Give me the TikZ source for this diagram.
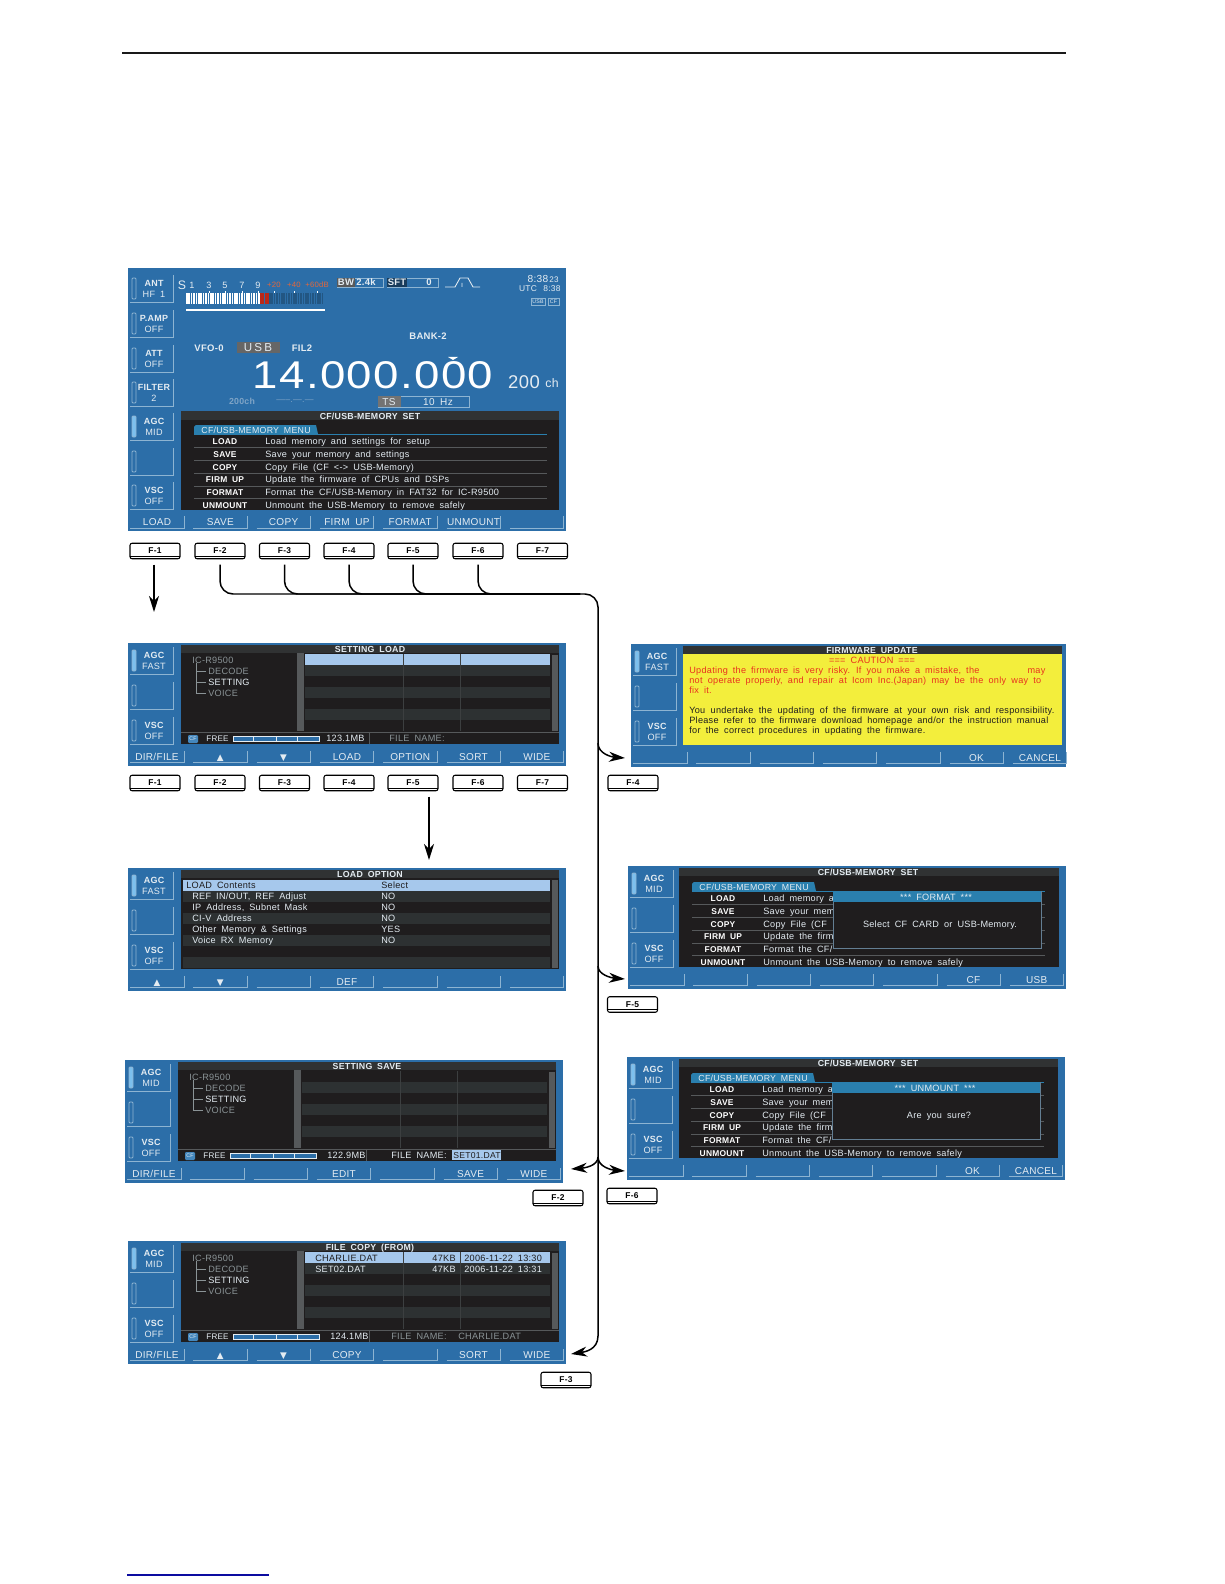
\documentclass[tikz,border=0pt]{standalone}
\usepackage{fontspec}
\setmainfont{Liberation Sans}[LetterSpace=3,WordSpace=1.8]
\newfontfamily\symfont{DejaVu Sans}
\usetikzlibrary{arrows.meta}

\definecolor{panelblue}{HTML}{2C6EA8}
\definecolor{keyblue}{HTML}{8DB4D2}
\definecolor{ledblue}{HTML}{7CC0EE}
\definecolor{scrdark}{HTML}{1F1D1E}
\definecolor{scrstrip}{HTML}{303233}
\definecolor{scrrow}{HTML}{2D3132}
\definecolor{scrbar}{HTML}{56595B}
\definecolor{scrcol}{HTML}{3C3F40}
\definecolor{selblue}{HTML}{A6C8EC}
\definecolor{tabteal}{HTML}{2A7FAE}
\definecolor{dimtext}{HTML}{8A9396}
\definecolor{soft}{HTML}{E4ECF2}
\definecolor{lcdyellow}{HTML}{F3EE3C}
\definecolor{warnred}{HTML}{E8321E}
\definecolor{meterred}{HTML}{E2673C}
\definecolor{dimblue}{HTML}{7FA4C6}
\definecolor{linkblue}{HTML}{0C0CA0}

\newlength\pxw
\setlength\pxw{0.02cm}

\tikzset{
  panel/.style={fill=panelblue,anchor=north west,inner sep=0,minimum width=8.76cm,minimum height=2.45cm},
  capline/.style={text height=#1,text depth=0pt},
  softlbl/.style={text=soft,inner sep=0,capline=4.1pt,font=\fontsize{5.7}{7}\selectfont},
  sidelbl/.style={text=soft,inner sep=0,capline=3.7pt,font=\fontsize{5.1}{6}\selectfont\bfseries},
  sidelow/.style={text=soft,inner sep=0,capline=3.7pt,font=\fontsize{5.2}{6}\selectfont},
  keyline/.style={draw=keyblue,line width=.5pt},
  scrtext/.style={text=soft,inner sep=0,anchor=west,capline=3.7pt,font=\fontsize{5.2}{6}\selectfont},
  scrbold/.style={text=white,inner sep=0,capline=3.5pt,font=\fontsize{4.8}{6}\selectfont\bfseries},
  scrtitle/.style={text=soft,inner sep=0,capline=3.6pt,font=\fontsize{5}{6}\selectfont\bfseries},
  scrdim/.style={scrtext,text=dimtext},
  paneltext/.style={text=soft,inner sep=0,font=\fontsize{5.4}{6}\selectfont\bfseries},
  fkey/.style={draw=black,fill=white,rounded corners=1.2pt,line width=.6pt,inner sep=0,
    minimum width=1cm,minimum height=.31cm,font=\fontsize{4.8}{5}\selectfont\bfseries,
    path picture={\draw[line width=.5pt] ([yshift=1.5pt]path picture bounding box.south west) -- ([yshift=1.5pt]path picture bounding box.south east);}},
  link/.style={draw=black,line width=.85pt},
  arrowlink/.style={link,-{Stealth[length=.32cm,width=.2cm,inset=.1cm]}}
}

% one key at the left of a screen
\newcommand{\sideframe}[2]{%
  \draw[keyline] (2,#1+27) -- (45,#1+27) -- (45,#1);
  \draw[keyline,fill=#2,rounded corners=.6pt] (4,#1+3) rectangle (8,#1+24);
}
\newcommand{\sidekey}[5]{%
  \sideframe{#2}{#5}
  \node[sidelbl] (#1a) at (26,#2+8) {#3};
  \node[sidelow] (#1b) at (26,#2+19) {#4};
}
% the seven keys along the bottom of a screen
\newcommand{\softframes}[1]{%
  \foreach \i in {0,...,6} {
    \pgfmathsetmacro{\kr}{56+63.3*\i}
    \pgfmathsetmacro{\kl}{\kr-54}
    \draw[keyline] (\kl,#1-3) -- (\kr,#1-3) -- (\kr,#1-15);
  }
}
\newcommand{\softlabels}[3]{%
  \foreach \i/\lab in {#3} {
    \pgfmathsetmacro{\kx}{29+63.3*(\i-1)}
    \node[softlbl] (#1s\i) at (\kx,#2-9) {\lab};
  }
}
\newcommand{\upkey}{{\symfont\fontsize{5}{5}\selectfont ▲}}
\newcommand{\downkey}{{\symfont\fontsize{5}{5}\selectfont ▼}}

% screen with three side keys, dark area and title
\newcommand{\screen}[5]{%
  \node[panel] (#1) at (0,0) {};
  \sidekey{#1p}{4}{AGC}{#2}{ledblue}
  \sideframe{39}{panelblue}
  \sidekey{#1v}{74}{VSC}{OFF}{panelblue}
  \fill[scrdark] (#4,2) rectangle (431,101);
  \fill[scrstrip] (#4,2) rectangle (431,10);
  \node[scrtitle] (#1t) at (#5,6.5) {#3};
  \softframes{122.5}
}
% CF/USB menu with its six rows
\newcommand{\menurows}[6]{%
  \fill[tabteal] (64,16) -- (186,16) -- (188,25) -- (64,25) [rounded corners=1pt] -- cycle;
  \draw[tabteal,line width=.5pt] (64,25) -- (417,25);
  \node[scrbold,text=soft,font=\fontsize{5}{6}\selectfont] (#1m) at (126,21) {CF/USB-MEMORY MENU};
  \foreach \ry in {38,51,64,77,89}
    \draw[scrbar,line width=.4pt] (64,\ry) -- (417,\ry);
  \foreach \i/\ry/\nam/\dsc in {1/32/LOAD/{#2},2/45/SAVE/{#3},3/58/COPY/{#4},4/70/FIRM UP/{#5},5/83/FORMAT/{#6},6/96/UNMOUNT/{Unmount the USB-Memory to remove safely}} {
    \node[scrbold] (#1n\i) at (95,\ry) {\nam};
    \node[scrtext] (#1d\i) at (135,\ry) {\dsc};
  }
}
% pop-up over the menu
\newcommand{\dialog}[3]{%
  \fill[scrdark] (205,25) rectangle (413,82);
  \draw[keyblue!70!black,line width=.5pt] (205,25) rectangle (413,82);
  \fill[tabteal] (205,25) rectangle (413,36);
  \node[scrtext,anchor=center] (#1h) at (308,31) {#2};
  \node[scrtext,anchor=center] (#1q) at (312,58) {#3};
}
% folder tree, table and status line
\newcommand{\fileview}[2]{%
  \foreach \ry in {22,44,66}
    \fill[scrrow] (177,\ry) rectangle (422,\ry+11);
  \ifnum#2=1 \fill[selblue] (177,11) rectangle (422,22); \fi
  \draw[scrcol,line width=.4pt] (275,11) -- (275,88) (332,11) -- (332,88);
  \fill[scrbar] (169,10) rectangle (176,88);
  \fill[scrbar] (424,12) rectangle (430,88);
  \draw[dimtext,line width=.4pt] (68,20) -- (68,50) -- (78,50) (68,28) -- (78,28) (68,39) -- (78,39);
  \node[scrdim] (#1c0) at (64,17) {IC-R9500};
  \node[scrdim] (#1c1) at (80,28) {DECODE};
  \node[scrtext] (#1c2) at (80,39) {SETTING};
  \node[scrdim] (#1c3) at (80,50) {VOICE};
  \draw[scrbar,line width=.4pt] (53,89) -- (431,89) (241,89) -- (241,101);
  \fill[panelblue!70!ledblue,rounded corners=.6pt] (60,92) rectangle (70,100);
  \node[text=soft,inner sep=0,font=\fontsize{3}{3}\selectfont] (#1cf) at (65,96) {CF};
  \node[scrtext,font=\fontsize{4.6}{6}\selectfont] (#1f) at (78,95) {FREE};
  \draw[soft,fill=panelblue,line width=.4pt] (105,93) rectangle (191,98);
  \draw[soft,line width=.3pt] (125,93) -- (125,98) (148,93) -- (148,98) (169,93) -- (169,98);
}

\begin{document}
\begin{tikzpicture}[x=0.02cm,y=-0.02cm]
  \useasboundingbox (0,0) rectangle (1224,1584);
  \coordinate (ra) at (122,53);
  \coordinate (rb) at (1066,53);
  \coordinate (rc) at (127,1575);
  \coordinate (rd) at (269,1575);
  \draw[black!90,line width=1.1pt] (ra) -- (rb);
  \draw[linkblue,line width=.6pt] (rc) -- (rd);

  % main screen
  \begin{scope}[shift={(128,268)}]
    \node[panel,minimum height=5.26cm] (pmain) at (0,0) {};
    \sidekey{ka}{7}{ANT}{HF 1}{panelblue}
    \sidekey{kb}{42}{P.AMP}{OFF}{panelblue}
    \sidekey{kc}{77}{ATT}{OFF}{panelblue}
    \sidekey{kd}{111}{FILTER}{2}{panelblue}
    \sidekey{ke}{145}{AGC}{MID}{ledblue}
    \sideframe{180}{panelblue}
    \sidekey{kf}{214}{VSC}{OFF}{panelblue}
    \softframes{263}
    \softlabels{pmain}{263}{1/LOAD,2/SAVE,3/COPY,4/FIRM UP,5/FORMAT,6/UNMOUNT}
  \end{scope}
  \node[text=soft,inner sep=0,font=\fontsize{7}{8}\selectfont] (ms) at (182,285) {S};
  \foreach \nm/\mx/\ml in {m1/192/1,m3/209/3,m5/225/5,m7/242/7,m9/258/9}
    \node[text=soft,inner sep=0,font=\fontsize{5.2}{6}\selectfont] (\nm) at (\mx,285) {\ml};
  \foreach \nm/\mx/\ml in {m20/274/+20,m40/294/+40,m60/317/+60dB}
    \node[text=meterred,inner sep=0,font=\fontsize{4.4}{5}\selectfont] (\nm) at (\mx,285) {\ml};
  \foreach \mx in {186,188.4,...,258}
    \fill[white] (\mx,293) rectangle (\mx+1.5,304);
  \foreach \mx in {260,262.4,...,268}
    \fill[warnred!80!black] (\mx,293) rectangle (\mx+2,304);
  \foreach \mx in {269,271.4,...,324}
    \fill[panelblue!78!black] (\mx,293) rectangle (\mx+1.5,304);
  \foreach \mx in {209,225,242,258,274,294,317}
    \fill[white] (\mx-.4,291) rectangle (\mx+.4,293);
  \draw[white,line width=.7pt] (186,310) -- (325,310);
  \draw[keyblue,line width=.4pt] (337,278) rectangle (383,287) (387,278) rectangle (438,287);
  \fill[black!65] (337,278) rectangle (355,287);
  \fill[panelblue!55!black] (387,278) rectangle (407,287);
  \node[paneltext] (bwa) at (346,282.5) {BW};
  \node[paneltext] (bwb) at (366,282.5) {2.4k};
  \node[paneltext] (sfa) at (397,282.5) {SFT};
  \node[paneltext] (sfb) at (429,282.5) {0};
  \draw[soft,line width=.5pt] (445,287) -- (455,287) -- (460,278) -- (468,278) -- (473,287) -- (480,287) (462,283) -- (462,287);
  \node[text=soft,inner sep=0,font=\fontsize{5.8}{8}\selectfont] (cka) at (538,279) {8:38};
  \node[text=soft,inner sep=0,font=\fontsize{4.6}{6}\selectfont] (ckb) at (554,280) {23};
  \node[paneltext,font=\fontsize{4.8}{6}\selectfont] (cku) at (528,289) {UTC};
  \node[paneltext,font=\fontsize{4.8}{6}\selectfont] (ckt) at (552,289) {8:38};
  \draw[keyblue,line width=.4pt] (531,298) rectangle (545,305) (548,298) rectangle (559,305);
  \node[text=soft,inner sep=0,font=\fontsize{3}{3}\selectfont] (ba) at (538,301.5) {USB};
  \node[text=soft,inner sep=0,font=\fontsize{3}{3}\selectfont] (bb) at (553.5,301.5) {CF};
  \node[paneltext] (bank) at (428,336) {BANK-2};
  \node[paneltext] (vfo) at (209,348) {VFO-0};
  \fill[black!60] (237,342) rectangle (280,353);
  \node[text=soft,inner sep=0,font=\fontsize{6.6}{8}\selectfont\addfontfeature{LetterSpace=18}] (mode) at (258,348) {USB};
  \node[paneltext] (fil) at (302,348) {FIL2};
  \node[text=white,inner sep=0,xscale=1.18,transform shape,font=\fontsize{22}{24}\selectfont] (freq) at (373,375) {14.000.000};
  \fill[white] (448,357) -- (458,357) -- (453,360) -- cycle;
  \node[text=soft,inner sep=0,font=\fontsize{10.5}{12}\selectfont] (chn) at (524,382) {200};
  \node[text=soft,inner sep=0,font=\fontsize{7}{8}\selectfont] (chu) at (552,383) {ch};
  \node[text=dimblue,inner sep=0,font=\fontsize{5}{6}\selectfont\bfseries] (mch) at (242,401) {200ch};
  \node[text=dimblue,inner sep=0,font=\fontsize{5}{6}\selectfont] (mdh) at (295,401) {-----.---.---};
  \draw[keyblue,line width=.4pt] (378,396) rectangle (469,407);
  \fill[black!55] (378,396) rectangle (401,407);
  \node[softlbl] (tsa) at (389,401.5) {TS};
  \node[softlbl] (tsb) at (438,401.5) {10 Hz};
  \fill[scrdark] (181,411) rectangle (559,510);
  \fill[scrstrip] (181,411) rectangle (559,420);
  \node[scrtitle] (mt) at (370,416) {CF/USB-MEMORY SET};
  \begin{scope}[shift={(130,409)}]
    \menurows{mm}{Load memory and settings for setup}{Save your memory and settings}{Copy File (CF <-> USB-Memory)}{Update the firmware of CPUs and DSPs}{Format the CF/USB-Memory in FAT32 for IC-R9500}
  \end{scope}

  % F keys below the main screen and below SETTING LOAD
  \foreach \i/\kx in {1/155,2/220,3/284.5,4/349,5/413,6/478,7/542.5} {
    \node[fkey] (fa\i) at (\kx,551) {F-\i};
    \node[fkey] (fb\i) at (\kx,783) {F-\i};
  }

  % SETTING LOAD
  \begin{scope}[shift={(128,643)}]
    \screen{pload}{FAST}{SETTING LOAD}{53}{242}
    \fileview{pload}{1}
    \node[scrtext] (lfr) at (198,95) {123.1MB};
    \node[scrdim] (lfn) at (261,95) {FILE NAME:};
    \softlabels{pload}{122.5}{1/{DIR/FILE},2/\upkey,3/\downkey,4/LOAD,5/OPTION,6/SORT,7/WIDE}
  \end{scope}

  % LOAD OPTION
  \begin{scope}[shift={(128,868)}]
    \screen{popt}{FAST}{LOAD OPTION}{53}{242}
    \foreach \ry in {23,45,67,89}
      \fill[scrrow] (55,\ry) rectangle (422,\ry+11);
    \fill[selblue] (55,12) rectangle (422,23);
    \fill[scrbar] (424,12) rectangle (430,100);
    \node[scrtext,text=scrdark] (oh) at (58,17) {LOAD Contents};
    \node[scrtext,text=scrdark] (os) at (253,17) {Select};
    \foreach \i/\ry/\oa/\ob in {1/28/{REF IN/OUT, REF Adjust}/NO,2/39/{IP Address, Subnet Mask}/NO,3/50/CI-V Address/NO,4/61/Other Memory \& Settings/YES,5/72/Voice RX Memory/NO} {
      \node[scrtext] (oa\i) at (64,\ry) {\oa};
      \node[scrtext] (ob\i) at (253,\ry) {\ob};
    }
    \softlabels{popt}{122.5}{1/\upkey,2/\downkey,4/DEF}
  \end{scope}

  % SETTING SAVE
  \begin{scope}[shift={(125,1060)}]
    \screen{psave}{MID}{SETTING SAVE}{53}{242}
    \fileview{psave}{0}
    \node[scrtext] (sfr) at (202,95) {122.9MB};
    \node[scrtext] (sfn) at (266,95) {FILE NAME:};
    \fill[selblue] (327,90) rectangle (376,100);
    \node[scrtext,text=scrdark,font=\fontsize{4.9}{6}\selectfont] (sfd) at (328,95) {SET01.DAT};
    \softlabels{psave}{122.5}{1/{DIR/FILE},4/EDIT,6/SAVE,7/WIDE}
  \end{scope}

  % FILE COPY
  \begin{scope}[shift={(128,1241)}]
    \screen{pcopy}{MID}{FILE COPY (FROM)}{53}{242}
    \fileview{pcopy}{1}
    \node[scrtext] (cfr) at (202,95) {124.1MB};
    \node[scrdim] (cfn) at (263,95) {FILE NAME:};
    \node[scrdim] (cfd) at (330,95) {CHARLIE.DAT};
    \node[scrtext,text=scrdark] (c1a) at (187,17) {CHARLIE.DAT};
    \node[scrtext,text=scrdark,anchor=east] (c1b) at (328,17) {47KB};
    \node[scrtext,text=scrdark] (c1c) at (336,17) {2006-11-22 13:30};
    \node[scrtext] (c2a) at (187,28) {SET02.DAT};
    \node[scrtext,anchor=east] (c2b) at (328,28) {47KB};
    \node[scrtext] (c2c) at (336,28) {2006-11-22 13:31};
    \softlabels{pcopy}{122.5}{1/{DIR/FILE},2/\upkey,3/\downkey,4/COPY,6/SORT,7/WIDE}
  \end{scope}

  % FIRMWARE UPDATE
  \begin{scope}[shift={(631,644)},panel/.append style={minimum width=8.7cm}]
    \screen{pfirm}{FAST}{FIRMWARE UPDATE}{52}{241}
    \fill[lcdyellow] (52,10) rectangle (431,101);
    \node[scrtext,anchor=center,text=warnred] (w0) at (241,16) {=== CAUTION ===};
    \foreach \i/\ry/\lw/\tx in {1/26/356/{Updating the firmware is very risky. If you make a mistake, the \hspace{38\pxw} may},2/36/352/{not operate properly, and repair at Icom Inc.(Japan) may be the only way to}}
      \node[scrtext,text=warnred] (w\i) at (58,\ry) {\makebox[\lw\pxw][s]{\tx}};
    \node[scrtext,text=warnred] (w3) at (58,46) {fix it.};
    \foreach \i/\ry/\lw/\tx in {4/66/365/{You undertake the updating of the firmware at your own risk and responsibility.},5/76/359/{Please refer to the firmware download homepage and/or the instruction manual},6/86/236/{for the correct procedures in updating the firmware.}}
      \node[scrtext,text=scrdark] (w\i) at (58,\ry) {\makebox[\lw\pxw][s]{\tx}};
    \softlabels{pfirm}{122.5}{6/OK,7/CANCEL}
  \end{scope}

  % FORMAT
  \begin{scope}[shift={(628,866)}]
    \screen{pfmt}{MID}{CF/USB-MEMORY SET}{51}{240}
    \menurows{pfmt}{Load memory a}{Save your mem}{Copy File (CF}{Update the firm}{Format the CF/}
    \dialog{pfmt}{*** FORMAT ***}{Select CF CARD or USB-Memory.}
    \softlabels{pfmt}{122.5}{6/CF,7/USB}
  \end{scope}

  % UNMOUNT
  \begin{scope}[shift={(627,1057)}]
    \screen{pum}{MID}{CF/USB-MEMORY SET}{52}{241}
    \menurows{pum}{Load memory a}{Save your mem}{Copy File (CF}{Update the firm}{Format the CF/}
    \dialog{pum}{*** UNMOUNT ***}{Are you sure?}
    \softlabels{pum}{122.5}{6/OK,7/CANCEL}
  \end{scope}

  % F keys beside the lower screens
  \node[fkey] (ffirm) at (633,783) {F-4};
  \node[fkey] (ffmt) at (632.5,1004.5) {F-5};
  \node[fkey] (fum) at (632,1196) {F-6};
  \node[fkey] (fsave) at (558,1198) {F-2};
  \node[fkey] (fcopy) at (566,1380) {F-3};

  % connectors
  \coordinate (tload) at (154,612);
  \coordinate (topt) at (429,860);
  \coordinate (bus) at (598,594);
  \coordinate (busl) at (580,594);
  \coordinate (jfirm) at (598,743);
  \coordinate (jfmt) at (598,966);
  \coordinate (jum) at (598,1157);
  \coordinate (jcopy) at (598,1336);
  \coordinate (tfirm) at (625,758);
  \coordinate (tfmt) at (625,979);
  \coordinate (tum) at (625,1171);
  \coordinate (tsave) at (571,1169);
  \coordinate (tcopy) at (571,1354);

  \draw[arrowlink] ([yshift=-3pt]fa1.south -| tload) -- (tload);
  \draw[arrowlink] ([yshift=-3pt]fb5.south -| topt) -- (topt);
  \foreach \from in {fa2,fa3,fa4,fa5}
    \draw[link,rounded corners=.26cm] ([yshift=-3pt]\from.south) |- (busl);
  \draw[link,rounded corners=.26cm] ([yshift=-3pt]fa6.south) |- (bus) -- (jcopy);
  \draw[arrowlink] (jfirm) .. controls +(0,11) and +(-13,-1) .. (tfirm);
  \draw[arrowlink] (jfmt) .. controls +(0,9) and +(-13,-1) .. (tfmt);
  \draw[arrowlink] (jum) .. controls +(0,10) and +(-13,-1) .. (tum);
  \draw[arrowlink] (jum) .. controls +(0,9) and +(13,-1) .. (tsave);
  \draw[arrowlink] (jcopy) .. controls +(0,14) and +(13,-2) .. (tcopy);
\end{tikzpicture}
\end{document}
